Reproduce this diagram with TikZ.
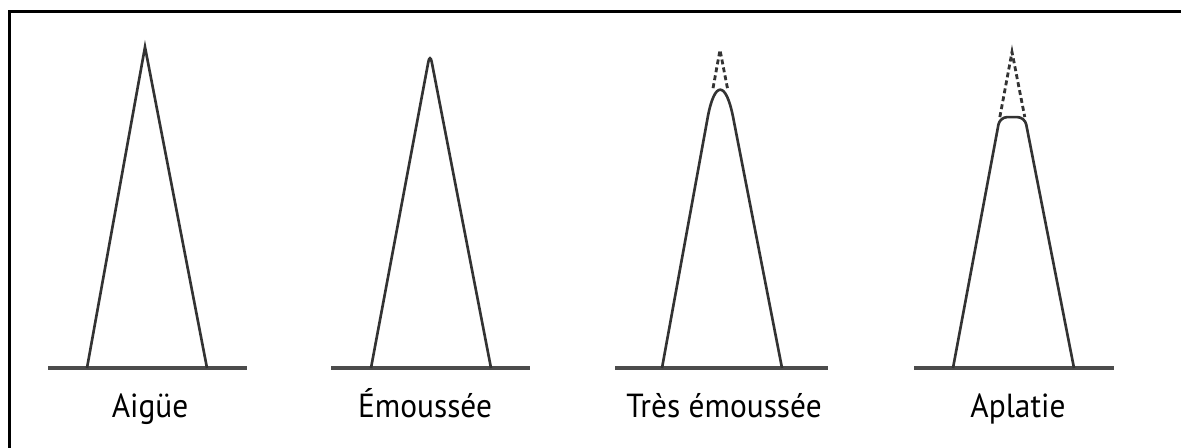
\documentclass[tikz,border=0pt]{standalone}
\usepackage{fontspec}
\setmainfont{PT Sans}
\usetikzlibrary{calc}
\begin{document}
\begin{tikzpicture}[x=0.02cm, y=-0.02cm,
    flank/.style={line width=1.5pt, draw=black!80},
    ground/.style={line width=2.2pt, draw=black!70},
    tipdash/.style={line width=1.6pt, draw=black!80, dash pattern=on 2.8pt off 1.8pt},
    caption/.style={anchor=base, font=\fontsize{19}{21}\selectfont}]
    \useasboundingbox (0,0) rectangle (1181,448);
    % cadre
    \draw[line width=1.7pt] (9.5,448) -- (9.5,11.5) -- (1181,11.5);
    % aigue
    \coordinate (p1) at (145,47);
    \draw[ground] (48,368) -- (247,368);
    \draw[flank] (87,368) -- (p1) -- (207,368);
    % emoussee
    \coordinate (p2) at (430,53);
    \draw[ground] (331,368) -- (530,368);
    \draw[flank, rounded corners=0.18cm] (371,368) -- (p2) -- (491,368);
    % tres emoussee
    \coordinate (p3) at (720,50);
    \draw[ground] (615,368) -- (828,368);
    \draw[flank, rounded corners=1.38cm] (662,368) -- (p3) -- (782,368);
    \draw[tipdash] ($(662,368)!0.88!(p3)$) -- (p3) -- ($(782,368)!0.88!(p3)$);
    % aplatie
    \coordinate (p4) at (1012,52);
    \coordinate (l4) at ($(953,368)!0.794!(p4)$);
    \coordinate (r4) at ($(1074,368)!0.794!(p4)$);
    \draw[ground] (914,368) -- (1114,368);
    \draw[flank, rounded corners=0.15cm] (953,368) -- (l4) -- (r4) -- (1074,368);
    \draw[tipdash] (l4) -- (p4) -- (r4);
    % legendes
    \node[caption, xscale=0.94] (t1) at (150,418) {Aigüe};
    \node[caption, xscale=0.94] (t2) at (425,418) {Émoussée};
    \node[caption, xscale=0.94] (t3) at (724,418) {Très émoussée};
    \node[caption, xscale=0.94] (t4) at (1018,418) {Aplatie};
\end{tikzpicture}
\end{document}
